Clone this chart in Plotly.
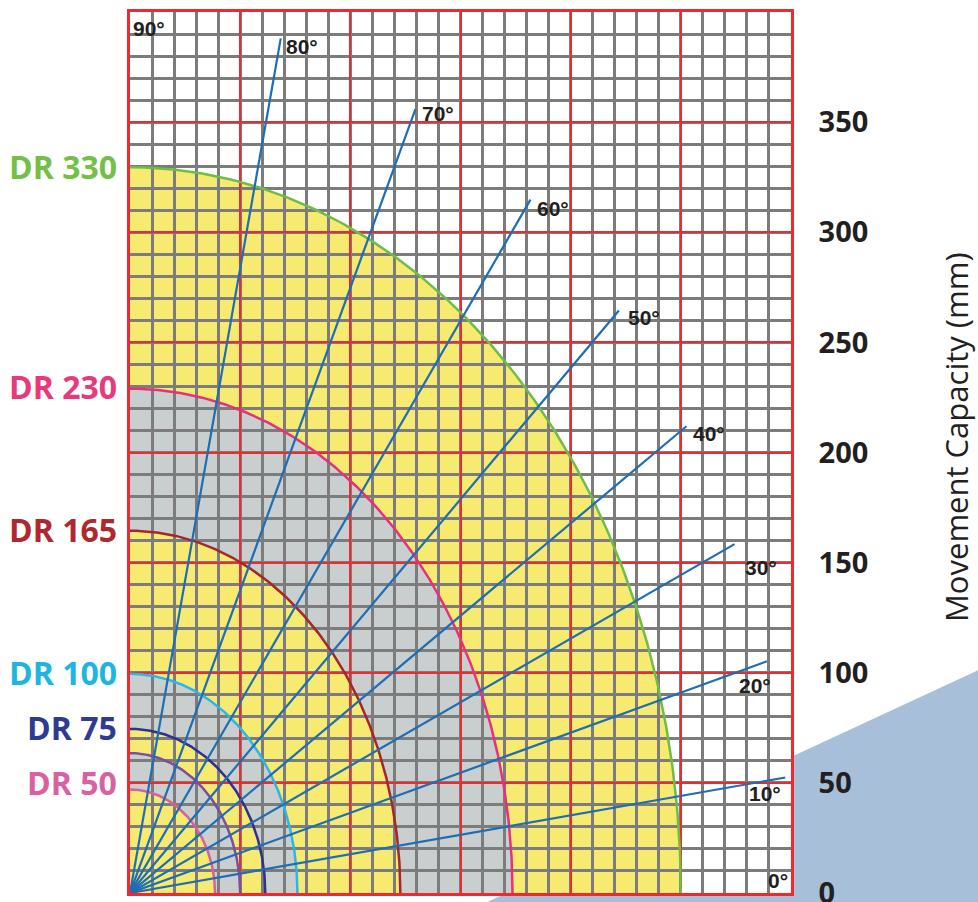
import numpy as np
import plotly.graph_objects as go

# ---------------- data ----------------
dr_labels = ["DR 330", "DR 230", "DR 165", "DR 100", "DR 75", "DR 50"]
dr_values = [330, 230, 165, 100, 75, 50]

# arcs (inner -> outer): vertical reach (mm) and horizontal reach
arc_names = ["DR 50", "DR 63", "DR 75", "DR 100", "DR 165", "DR 230", "DR 330"]
arc_y_reach = [47, 63.5, 74.5, 99.5, 164.5, 229, 329.5]
arc_x_reach = [38.6, 50, 61.4, 76, 122.7, 173.6, 250]

ray_angles = [10, 20, 30, 40, 50, 60, 70, 80]
ray_lengths = [302, 307.6, 316.8, 329.7, 345.2, 363.5, 378.8, 394]
ray_labels = ["10°", "20°", "30°", "40°", "50°", "60°", "70°", "80°"]
edge_labels = ["0°", "90°"]

y_tick_vals = [0, 50, 100, 150, 200, 250, 300, 350, 400]
y_tick_text = ["0", "50", "100", "150", "200", "250", "300", "350", ""]
y_title = "Movement Capacity (mm)"

# ---------------- styles ----------------
dr_label_colors = ["#74bf47", "#e8397d", "#b0282e", "#1fb5e3", "#2e3b93", "#d8619f"]
arc_colors = ["#d95fa0", "#7d4e9f", "#2e3192", "#2ab6e6", "#a3272c", "#e6317c", "#6fbd46"]
YELLOW = "#f6eb70"
GRAY = "#c9cecf"
RAY = "#1e6db5"
RED = "#ee2a30"
GRID = "#7c7c7c"
TXT = "#231f20"
# label offsets (px) for ray labels: (xanchor, xshift, yshift)
ray_label_style = [("center", -20, -16), ("center", -12, -24), ("center", 26, -23),
                   ("left", 5, -7), ("left", 7, -7), ("left", 5, -9),
                   ("left", 5, -4), ("left", 3, -8)]
LBL_FONT = dict(family="Liberation Sans", size=21, color=TXT, weight="bold")

fig = go.Figure()
phi = np.linspace(0, np.pi / 2, 240)

shapes = []
# fills: quarter ellipses from outer to inner, alternating colours
for i in reversed(range(len(arc_y_reach))):
    xs = arc_x_reach[i] * np.cos(phi)
    ys = arc_y_reach[i] * np.sin(phi)
    path = "M 0,0 " + " ".join(f"L {x:.3f},{y:.3f}" for x, y in zip(xs, ys)) + " Z"
    shapes.append(dict(type="path", path=path, xref="x", yref="y", layer="below",
                       fillcolor=YELLOW if i % 2 == 0 else GRAY, line=dict(width=0)))

# decorative background wedge (outside the plot area)
shapes.append(dict(type="path", xref="paper", yref="paper", layer="below",
                   path="M 0.5408,-0.0102 L 0.5695,0 L 1.0,0 L 1.0,0.1544 L 1.29,0.2554 L 1.29,-0.03 L 0.53,-0.03 Z",
                   fillcolor="#a7bfd8", line=dict(width=0)))

# arcs
for i in range(len(arc_y_reach)):
    fig.add_trace(go.Scatter(x=arc_x_reach[i] * np.cos(phi), y=arc_y_reach[i] * np.sin(phi),
                             mode="lines", line=dict(color=arc_colors[i], width=2.5),
                             name=arc_names[i], hoverinfo="skip", showlegend=False))

# rays
for a, L in zip(ray_angles, ray_lengths):
    t = np.deg2rad(a)
    fig.add_trace(go.Scatter(x=[0, L * np.cos(t)], y=[0, L * np.sin(t)], mode="lines",
                             line=dict(color=RAY, width=2.2), hoverinfo="skip", showlegend=False))

annotations = []
for a, L, lab, st in zip(ray_angles, ray_lengths, ray_labels, ray_label_style):
    t = np.deg2rad(a)
    annotations.append(dict(x=L * np.cos(t), y=L * np.sin(t), xref="x", yref="y",
                            text=lab, showarrow=False, xanchor=st[0], yanchor="middle",
                            xshift=st[1], yshift=st[2], font=LBL_FONT))
annotations.append(dict(x=300, y=0, xref="x", yref="y", text=edge_labels[0], showarrow=False,
                        xanchor="right", yanchor="bottom", xshift=-1, yshift=-1, font=LBL_FONT))
annotations.append(dict(x=0, y=400, xref="x", yref="y", text=edge_labels[1], showarrow=False,
                        xanchor="left", yanchor="top", xshift=1, yshift=-3, font=LBL_FONT))

for lab, v, c in zip(dr_labels, dr_values, dr_label_colors):
    annotations.append(dict(x=0, y=v, xref="x", yref="y", text=f"<b>{lab}</b>", showarrow=False,
                            xanchor="right", yanchor="middle", xshift=-11,
                            font=dict(family="Open Sans", size=32, color=c)))

annotations.append(dict(x=1.2497, y=0.5176, xref="paper", yref="paper", text=y_title,
                        showarrow=False, textangle=-90, xanchor="center", yanchor="middle",
                        font=dict(family="Open Sans", size=31, color=TXT)))

fig.update_layout(
    width=978, height=902,
    margin=dict(l=130, r=187, t=12, b=9, autoexpand=False),
    paper_bgcolor="white", plot_bgcolor="white",
    shapes=shapes, annotations=annotations, showlegend=False,
    xaxis=dict(range=[0, 300], tickvals=[0, 50, 100, 150, 200, 250, 300], showticklabels=False,
               showgrid=True, gridcolor=RED, gridwidth=2.2, zeroline=False, automargin=False,
               showline=True, linecolor=RED, linewidth=2.5, mirror=True, ticks="",
               minor=dict(tickmode="linear", tick0=0, dtick=10, showgrid=True,
                          gridcolor=GRID, gridwidth=2.5, ticks="")),
    yaxis=dict(range=[0, 400], tickvals=y_tick_vals, ticktext=y_tick_text, side="right",
               showgrid=True, gridcolor=RED, gridwidth=2.2, zeroline=False, automargin=False,
               showline=True, linecolor=RED, linewidth=2.5, mirror=True,
               ticks="outside", ticklen=19, tickcolor="rgba(0,0,0,0)",
               ticklabeloverflow="allow",
               tickfont=dict(family="Open Sans", size=29, color=TXT, weight="bold"),
               minor=dict(tickmode="linear", tick0=0, dtick=10, showgrid=True,
                          gridcolor=GRID, gridwidth=2.5, ticks="")),
)

fig.write_html("out.html", config={"displayModeBar": False},
               post_script="document.body.style.margin='0px';document.body.style.overflow='hidden';")
